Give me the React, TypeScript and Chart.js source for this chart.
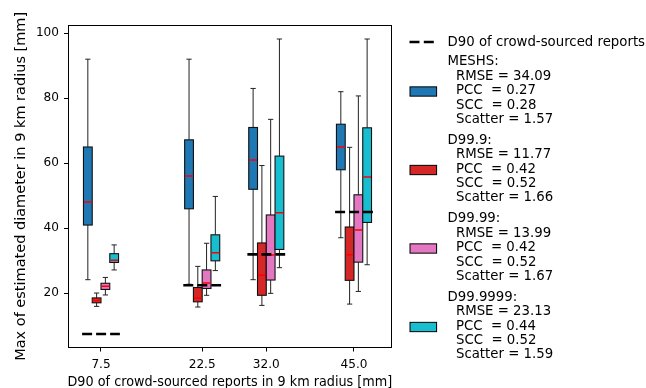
import { useEffect, useRef } from 'react';
import { Chart, registerables } from 'chart.js';

Chart.register(...registerables);

// ---- data ----
const categories = [7.5, 22.5, 32.0, 45.0];
const xTickLabels = ['7.5', '22.5', '32.0', '45.0'];
const yTicks = [20, 40, 60, 80, 100];
const d90Values = [7.5, 22.5, 32.0, 45.0];

const seriesNames = ['MESHS', 'D99.9', 'D99.99', 'D99.9999'];
// [whisker low, Q1, median, Q3, whisker high] per category
const meshsStats = [
  [24.2, 41.0, 48.1, 65.0, 92.0],
  [22.8, 46.0, 56.1, 67.2, 92.0],
  [24.2, 52.0, 61.0, 71.0, 83.0],
  [37.1, 58.0, 65.0, 72.0, 82.0],
];
const d999Stats = [
  [16.0, 17.1, 17.8, 18.6, 20.1],
  [15.8, 17.4, 18.6, 21.8, 28.3],
  [16.3, 19.4, 25.6, 35.5, 59.3],
  [16.7, 24.0, 31.9, 40.4, 64.9],
];
const d9999Stats = [
  [19.5, 21.2, 22.2, 23.1, 24.9],
  [19.4, 21.5, 23.2, 27.2, 35.4],
  [20.0, 24.1, 31.8, 44.1, 73.5],
  [20.6, 29.6, 39.5, 50.3, 80.7],
];
const d999999Stats = [
  [27.2, 29.5, 30.2, 32.2, 34.9],
  [27.0, 30.0, 32.5, 38.0, 49.8],
  [27.9, 33.5, 44.8, 62.2, 98.2],
  [28.8, 41.8, 55.8, 70.9, 98.2],
];
const meshsScores = ['RMSE = 34.09', 'PCC  = 0.27', 'SCC  = 0.28', 'Scatter = 1.57'];
const d999Scores = ['RMSE = 11.77', 'PCC  = 0.42', 'SCC  = 0.52', 'Scatter = 1.66'];
const d9999Scores = ['RMSE = 13.99', 'PCC  = 0.42', 'SCC  = 0.52', 'Scatter = 1.67'];
const d999999Scores = ['RMSE = 23.13', 'PCC  = 0.44', 'SCC  = 0.52', 'Scatter = 1.59'];

const d90Label = 'D90 of crowd-sourced reports';
const xTitle = 'D90 of crowd-sourced reports in 9 km radius [mm]';
const yTitle = 'Max of estimated diameter in 9 km radius [mm]';

// ---- styles ----
const allStats = [meshsStats, d999Stats, d9999Stats, d999999Stats];
const allScores = [meshsScores, d999Scores, d9999Scores, d999999Scores];
const seriesColors = ['#1f77b4', '#d62728', '#e377c2', '#17becf'];
const OFFSETS = [-1.95, -0.65, 0.65, 1.95];
const BOX_W = 1.3;
const D90_HALF = 2.8;
const FONT = '"DejaVu Sans", sans-serif';

const boxPlugin = {
  id: 'boxes',
  beforeDatasetsDraw(chart: any) {
    const { ctx, chartArea: ca } = chart;
    const x = chart.scales.x;
    const y = chart.scales.y;
    ctx.save();
    ctx.beginPath();
    ctx.rect(ca.left, ca.top, ca.right - ca.left, ca.bottom - ca.top);
    ctx.clip();
    allStats.forEach((series, si) => {
      series.forEach((st, ci) => {
        const c = categories[ci] + OFFSETS[si];
        const xl = x.getPixelForValue(c - BOX_W / 2);
        const xr = x.getPixelForValue(c + BOX_W / 2);
        const xm = x.getPixelForValue(c);
        const cl = x.getPixelForValue(c - BOX_W * 0.3);
        const cr = x.getPixelForValue(c + BOX_W * 0.3);
        const [lo, q1, med, q3, hi] = st.map((v) => y.getPixelForValue(v));
        ctx.setLineDash([]);
        ctx.strokeStyle = '#222';
        ctx.lineWidth = 1;
        ctx.beginPath();
        ctx.moveTo(xm, q3);
        ctx.lineTo(xm, hi);
        ctx.moveTo(xm, q1);
        ctx.lineTo(xm, lo);
        ctx.moveTo(cl, hi);
        ctx.lineTo(cr, hi);
        ctx.moveTo(cl, lo);
        ctx.lineTo(cr, lo);
        ctx.stroke();
        ctx.fillStyle = seriesColors[si];
        ctx.fillRect(xl, q3, xr - xl, q1 - q3);
        ctx.strokeStyle = '#111';
        ctx.lineWidth = 1.1;
        ctx.strokeRect(xl, q3, xr - xl, q1 - q3);
        ctx.strokeStyle = '#ff0000';
        ctx.lineWidth = 1.5;
        ctx.beginPath();
        ctx.moveTo(xl + 0.5, med);
        ctx.lineTo(xr - 0.5, med);
        ctx.stroke();
      });
    });
    ctx.restore();
  },
  afterDraw(chart: any) {
    const { ctx, chartArea: ca } = chart;
    ctx.save();
    // frame
    ctx.setLineDash([]);
    ctx.strokeStyle = '#000';
    ctx.lineWidth = 1;
    const l = Math.round(ca.left) + 0.5;
    const t = Math.round(ca.top) + 0.5;
    const r = Math.round(ca.right) - 0.5;
    const b = Math.round(ca.bottom) - 0.5;
    ctx.strokeRect(l, t, r - l, b - t);

    // legend
    ctx.font = `13.3px ${FONT}`;
    ctx.textBaseline = 'middle';
    ctx.textAlign = 'left';
    ctx.fillStyle = '#000';
    const tx = 447.5;
    ctx.lineWidth = 2.6;
    ctx.setLineDash([10, 4.3]);
    ctx.beginPath();
    ctx.moveTo(409.5, 42);
    ctx.lineTo(435, 42);
    ctx.stroke();
    ctx.setLineDash([]);
    ctx.fillText(d90Label, tx, 42.6);
    seriesNames.forEach((name, i) => {
      const hy = 61.9 + i * 78.5;
      ctx.fillStyle = '#000';
      ctx.fillText(name + ':', tx, hy);
      allScores[i].forEach((s, k) => {
        ctx.fillText('  ' + s, tx, hy + 14.4 * (k + 1));
      });
      const py = hy - 0.9 + 30.5 - 4.65;
      ctx.fillStyle = seriesColors[i];
      ctx.fillRect(410, py, 26.6, 9.3);
      ctx.strokeStyle = '#000';
      ctx.lineWidth = 1;
      ctx.strokeRect(410, py, 26.6, 9.3);
    });
    ctx.restore();
  },
};

export default function App() {
  const ref = useRef<HTMLCanvasElement | null>(null);
  useEffect(() => {
    if (!ref.current) return;
    const d90Points: any[] = [];
    categories.forEach((c, i) => {
      if (i > 0) d90Points.push({ x: c - 5, y: null });
      d90Points.push({ x: c - D90_HALF, y: d90Values[i] });
      d90Points.push({ x: c + D90_HALF, y: d90Values[i] });
    });
    const chart = new Chart(ref.current, {
      type: 'line',
      data: {
        datasets: [
          {
            label: d90Label,
            data: d90Points,
            borderColor: '#000',
            borderWidth: 2.6,
            borderDash: [10, 4],
            borderCapStyle: 'butt',
            pointRadius: 0,
            spanGaps: false,
            fill: false,
            tension: 0,
          },
        ],
      },
      options: {
        responsive: false,
        animation: false,
        devicePixelRatio: 1,
        layout: { padding: { left: 0, top: 24.7, right: 253.7, bottom: 0 } },
        plugins: { legend: { display: false }, tooltip: { enabled: false } },
        scales: {
          x: {
            type: 'linear',
            min: 2.535,
            max: 50.68,
            afterBuildTicks: (s: any) => {
              s.ticks = categories.map((v) => ({ value: v }));
            },
            afterFit: (s: any) => {
              s.height = 40;
            },
            ticks: {
              callback: (_v: any, i: number) => xTickLabels[i],
              font: { family: FONT, size: 12.1 },
              color: '#000',
              padding: 6.5,
              maxRotation: 0,
              autoSkip: false,
            },
            grid: { drawOnChartArea: false, drawTicks: true, tickLength: 3.5, color: '#000', lineWidth: 1 },
            border: { display: false },
            title: {
              display: true,
              text: xTitle,
              color: '#000',
              font: { family: FONT, size: 14.5 },
              padding: { top: 0, bottom: -3.1 },
            },
          },
          y: {
            type: 'linear',
            min: 3.2,
            max: 102.6,
            afterBuildTicks: (s: any) => {
              s.ticks = yTicks.map((v) => ({ value: v }));
            },
            afterFit: (s: any) => {
              s.width = 67.5;
            },
            ticks: {
              callback: (v: any) => String(v),
              font: { family: FONT, size: 12.1 },
              color: '#000',
              padding: 5,
            },
            grid: { drawOnChartArea: false, drawTicks: true, tickLength: 3.5, color: '#000', lineWidth: 1 },
            border: { display: false },
            title: {
              display: true,
              text: yTitle,
              color: '#000',
              font: { family: FONT, size: 14.5 },
              padding: { top: 12.6, bottom: 0 },
            },
          },
        },
      },
      plugins: [boxPlugin],
    } as any);
    return () => chart.destroy();
  }, []);
  return (
    <div style={{ position: 'fixed', left: 0, top: 0, width: 646, height: 388, background: '#fff' }}>
      <canvas ref={ref} width={646} height={388} style={{ display: 'block', width: 646, height: 388 }} />
    </div>
  );
}
